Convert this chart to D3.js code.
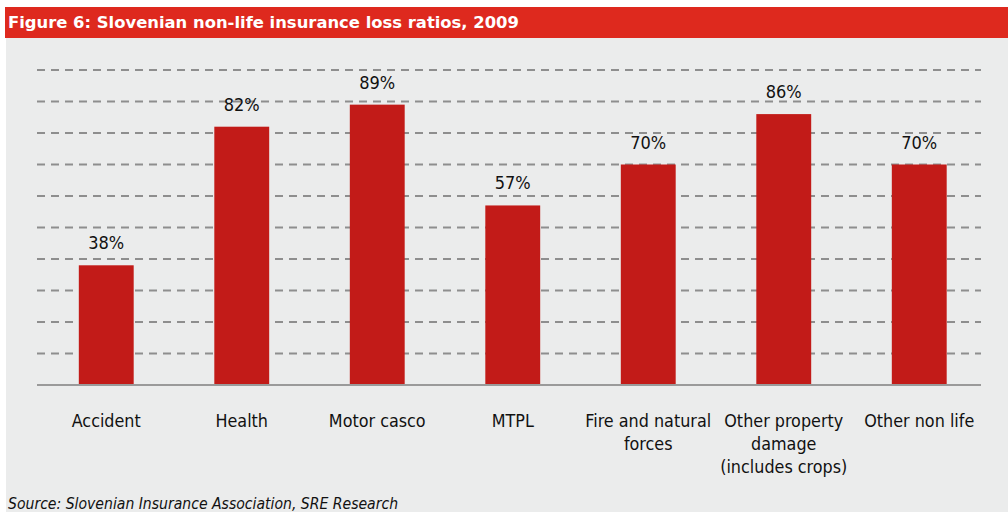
<!DOCTYPE html>
<html>
<head>
<meta charset="utf-8">
<script src="https://cdn.jsdelivr.net/npm/d3@7"></script>
<style>
  html, body { margin: 0; padding: 0; background: #ffffff; }
  svg { display: block; }
</style>
</head>
<body>
<svg id="chart" width="1008" height="512"></svg>
<script>
// Loss ratios by line of business, 2009 (%)
const categories = [
  ["Accident"],
  ["Health"],
  ["Motor casco"],
  ["MTPL"],
  ["Fire and natural", "forces"],
  ["Other property", "damage", "(includes crops)"],
  ["Other non life"]
];
const lossRatios = [38, 82, 89, 57, 70, 86, 70];
const yTicks = [0, 10, 20, 30, 40, 50, 60, 70, 80, 90, 100];

const titleText = "Figure 6: Slovenian non-life insurance loss ratios, 2009";
const sourceText = "Source: Slovenian Insurance Association, SRE Research";

const svg = d3.select("#chart");
const W = 1008, H = 512;
const font = "'DejaVu Sans Condensed', 'DejaVu Sans', sans-serif";

// Panel background
svg.append("rect")
  .attr("x", 6).attr("y", 38).attr("width", W - 6).attr("height", H - 38)
  .attr("fill", "#ebecec");

// Title bar
svg.append("rect")
  .attr("x", 5).attr("y", 7).attr("width", W - 5).attr("height", 31)
  .attr("fill", "#de291e");
svg.append("text")
  .attr("x", 8).attr("y", 28)
  .attr("font-family", "'DejaVu Sans', sans-serif")
  .attr("font-weight", "bold")
  .attr("font-size", 16.4)
  .attr("fill", "#ffffff")
  .text(titleText);

// Scales
const plotLeft = 37, plotRight = 981;
const x = d3.scaleBand()
  .domain(d3.range(categories.length))
  .range([38.5, 987])
  .paddingInner(0.595)
  .paddingOuter(0.2975);
const y = d3.scaleLinear().domain([0, 100]).range([385, 70]);

// Dashed gridlines
svg.append("g")
  .selectAll("line")
  .data(yTicks.filter(t => t > 0))
  .join("line")
  .attr("x1", plotLeft).attr("x2", plotRight)
  .attr("y1", d => y(d)).attr("y2", d => y(d))
  .attr("stroke", "#8e8e8e")
  .attr("stroke-width", 2)
  .attr("stroke-dasharray", "8,6");

// Bars
svg.append("g")
  .selectAll("rect")
  .data(lossRatios)
  .join("rect")
  .attr("x", (d, i) => x(i))
  .attr("width", x.bandwidth())
  .attr("y", d => y(d))
  .attr("height", d => y(0) - y(d))
  .attr("fill", "#c21b18");

// Baseline
svg.append("line")
  .attr("x1", plotLeft).attr("x2", plotRight)
  .attr("y1", y(0)).attr("y2", y(0))
  .attr("stroke", "#9a9a9a")
  .attr("stroke-width", 2);

// Value labels
svg.append("g")
  .selectAll("text")
  .data(lossRatios)
  .join("text")
  .attr("x", (d, i) => x(i) + x.bandwidth() / 2)
  .attr("y", d => y(d) - 16)
  .attr("text-anchor", "middle")
  .attr("font-family", font)
  .attr("font-size", 18)
  .attr("fill", "#111111")
  .text(d => d + "%");

// Category labels
const catG = svg.append("g");
categories.forEach((lines, i) => {
  const t = catG.append("text")
    .attr("x", x(i) + x.bandwidth() / 2)
    .attr("y", 427)
    .attr("text-anchor", "middle")
    .attr("font-family", font)
    .attr("font-size", 17.8)
    .attr("fill", "#111111");
  lines.forEach((ln, k) => {
    t.append("tspan")
      .attr("x", x(i) + x.bandwidth() / 2)
      .attr("dy", k === 0 ? 0 : 23)
      .text(ln);
  });
});

// Source note
svg.append("text")
  .attr("x", 8).attr("y", 509)
  .attr("font-family", font)
  .attr("font-style", "italic")
  .attr("font-size", 15.6)
  .attr("fill", "#111111")
  .text(sourceText);
</script>
</body>
</html>
